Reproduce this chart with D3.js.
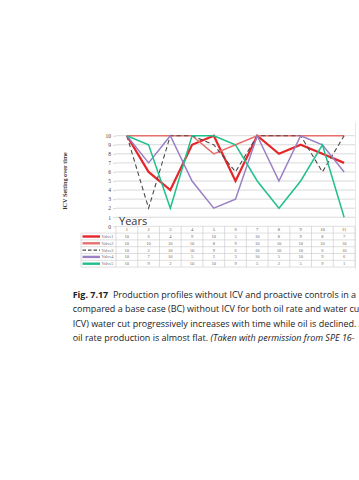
<!DOCTYPE html>
<html><head><meta charset="utf-8">
<script src="https://cdn.jsdelivr.net/npm/d3@7"></script>
<style>html,body{margin:0;padding:0;background:#fff;overflow:hidden}svg{display:block}</style>
</head><body>
<script>
const years = [1,2,3,4,5,6,7,8,9,10,11];
const seriesNames = ["Valve1","Valve2","Valve3","Valve4","Valve5"];
const valve1 = [10,6,4,9,10,5,10,8,9,8,7];
const valve2 = [10,10,10,10,8,9,10,10,10,10,10];
const valve3 = [10,2,10,10,9,6,10,10,10,6,10];
const valve4 = [10,7,10,5,2,3,10,5,10,9,6];
const valve5 = [10,9,2,10,10,9,5,2,5,9,1];
const yTicks = [0,1,2,3,4,5,6,7,8,9,10];
const captionLines = [
  ["Fig. 7.17", "  Production profiles without ICV and proactive controls in a"],
  ["", "compared a base case (BC) without ICV for both oil rate and water cu"],
  ["", "ICV) water cut progressively increases with time while oil is declined. A"],
  ["", "oil rate production is almost flat. ", "(Taken with permission from SPE 16-"]
];

const series = [
  {name:"Valve1", values:valve1, color:"#e5262a", width:2.2, dash:null},
  {name:"Valve2", values:valve2, color:"#e8706c", width:1.5, dash:null},
  {name:"Valve3", values:valve3, color:"#4a4a4a", width:1.1, dash:"4.5,3"},
  {name:"Valve4", values:valve4, color:"#9a80c4", width:1.5, dash:null},
  {name:"Valve5", values:valve5, color:"#1fc08c", width:1.5, dash:null}
];

const W = 359, H = 480;
const svg = d3.select("body").append("svg").attr("width",W).attr("height",H);
svg.append("rect").attr("width",W).attr("height",H).attr("fill","#fff");

const x = d3.scaleBand().domain(years).range([116,355]).padding(0);
const xc = d => x(d) + x.bandwidth()/2;
const y = d3.scaleLinear().domain([0,10]).range([226.3,135.7]);

// right panel border
svg.append("line").attr("x1",355.5).attr("x2",355.5).attr("y1",122).attr("y2",270)
  .attr("stroke","#e2e2e2").attr("stroke-width",0.8);

// gridlines
svg.append("g").selectAll("line").data(yTicks.filter(d=>d>0)).join("line")
  .attr("x1",116).attr("x2",355).attr("y1",d=>y(d)).attr("y2",d=>y(d))
  .attr("stroke","#cfcfcf").attr("stroke-width",0.8);

// y axis
const yAxis = d3.axisLeft(y).tickValues(yTicks).tickSize(3).tickPadding(2).tickFormat(d3.format("d"));
const ga = svg.append("g").attr("transform","translate(116,0)").call(yAxis);
ga.select(".domain").remove();
ga.selectAll(".tick line").attr("stroke","#cfcfcf").attr("stroke-width",0.8);
ga.selectAll(".tick text").attr("font-family","Liberation Serif, serif").attr("font-size",5.5).attr("fill","#444");

// y label
svg.append("text").attr("transform","translate(67,181) rotate(-90)")
  .attr("text-anchor","middle").attr("font-family","Liberation Serif, serif")
  .attr("font-weight","bold").attr("font-size",6.2).attr("fill","#333")
  .text("ICV Setting over time");

// lines
const line = d3.line().x((d,i)=>xc(years[i])).y(d=>y(d));
svg.append("g").selectAll("path").data(series).join("path")
  .attr("d",d=>line(d.values)).attr("fill","none")
  .attr("stroke",d=>d.color).attr("stroke-width",d=>d.width)
  .attr("stroke-dasharray",d=>d.dash).attr("stroke-linejoin","miter");

// "Years"
svg.append("text").attr("x",119).attr("y",225).attr("font-family","Open Sans, sans-serif")
  .attr("font-size",11).attr("fill","#333").text("Years");

// data table
const tTop = 226.3, rh = 6.8, tLeft = 81;
const rows = seriesNames.length + 1;
const tg = svg.append("g");
tg.selectAll("line.h").data(d3.range(rows+1)).join("line").attr("class","h")
  .attr("x1",d=> d===0 ? 116 : tLeft).attr("x2",355)
  .attr("y1",d=>tTop+d*rh).attr("y2",d=>tTop+d*rh)
  .attr("stroke","#c8c8c8").attr("stroke-width",0.6);
tg.selectAll("line.v").data(years.map(d=>x(d)).concat([355])).join("line").attr("class","v")
  .attr("x1",d=>d).attr("x2",d=>d).attr("y1",tTop).attr("y2",tTop+rows*rh)
  .attr("stroke","#c8c8c8").attr("stroke-width",0.6);
tg.append("line").attr("x1",tLeft).attr("x2",tLeft).attr("y1",tTop+rh).attr("y2",tTop+rows*rh)
  .attr("stroke","#c8c8c8").attr("stroke-width",0.6);
tg.selectAll("text.hd").data(years).join("text").attr("class","hd")
  .attr("x",d=>xc(d)).attr("y",tTop+rh/2+1.5).attr("text-anchor","middle")
  .attr("font-family","Liberation Serif, serif").attr("font-size",4.5).attr("fill","#555").text(d=>d);
series.forEach((s,r)=>{
  const yy = tTop + (r+1)*rh + rh/2;
  tg.append("line").attr("x1",82.5).attr("x2",100).attr("y1",yy).attr("y2",yy)
    .attr("stroke",s.color).attr("stroke-width",s.name==="Valve3"?1.3:2.4)
    .attr("stroke-dasharray",s.dash?"3.5,2":null);
  tg.append("text").attr("x",101.5).attr("y",yy+1.5).attr("font-family","Liberation Serif, serif")
    .attr("font-size",4.3).attr("fill","#666").text(s.name);
  tg.selectAll("text.v"+r).data(s.values).join("text").attr("class","v"+r)
    .attr("x",(d,i)=>xc(years[i])).attr("y",yy+1.5).attr("text-anchor","middle")
    .attr("font-family","Liberation Serif, serif").attr("font-size",4.5).attr("fill","#666").text(d=>d);
});

// caption: fit font size so line 2 spans to the right edge like the reference
const cap = svg.append("g").attr("font-family","Open Sans, sans-serif").attr("fill","#222");
const probe = cap.append("text").attr("font-size",10).text(captionLines[1][1]);
const w10 = probe.node().getComputedTextLength();
probe.remove();
const fs = 10 * 287 / w10;
cap.attr("font-size", fs);
const capY = [298, 312.4, 326.8, 341.2];
captionLines.forEach((parts,i)=>{
  const t = cap.append("text").attr("x",72.7).attr("y",capY[i]).attr("xml:space","preserve");
  if (i===0) {
    t.append("tspan").attr("font-weight","bold").text(parts[0]);
    t.append("tspan").text(parts[1]);
  } else if (i===3) {
    t.append("tspan").text(parts[1]);
    t.append("tspan").attr("font-style","italic").text(parts[2]);
  } else {
    t.append("tspan").text(parts[1]);
  }
});
</script>
</body></html>
